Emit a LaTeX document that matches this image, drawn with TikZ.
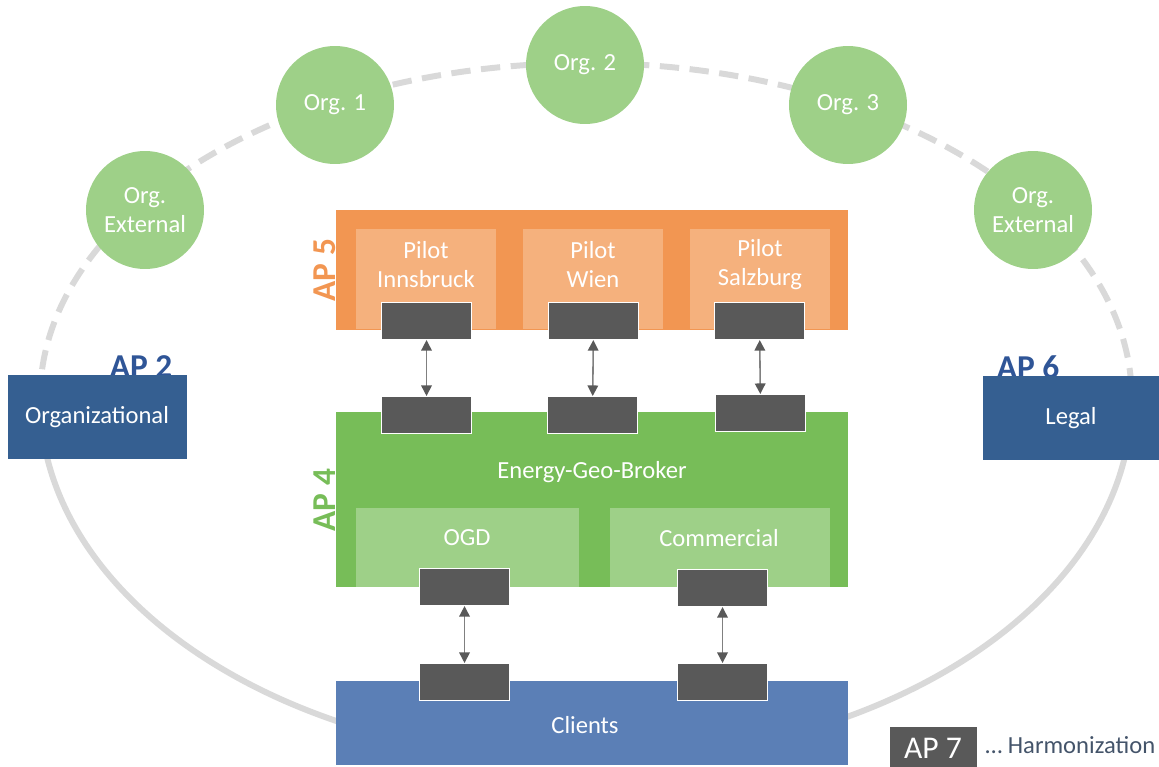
\documentclass[tikz,border=0pt]{standalone}
\usepackage{fontspec}
\setmainfont{Carlito}
\usetikzlibrary{arrows.meta}
\definecolor{ringgray}{RGB}{217,217,217}
\definecolor{orglight}{RGB}{158,208,136}
\definecolor{orangedark}{RGB}{242,150,82}
\definecolor{orangelight}{RGB}{245,177,125}
\definecolor{greendark}{RGB}{119,189,88}
\definecolor{greenlight}{RGB}{158,208,136}
\definecolor{clientblue}{RGB}{91,127,182}
\definecolor{workblue}{RGB}{53,95,145}
\definecolor{aplabelblue}{RGB}{47,85,151}
\definecolor{portgray}{RGB}{89,89,89}
\definecolor{linkgray}{RGB}{128,128,128}
\definecolor{notegray}{RGB}{68,84,106}
\tikzset{
  txt/.style={font=\fontsize{14}{16.5}\selectfont, text=white, align=center, inner sep=0pt},
  org/.style={txt, circle, fill=orglight, minimum size=2.36cm},
  panel/.style={rectangle, anchor=north west, inner sep=0pt},
  port/.style={panel, fill=portgray, draw=white, line width=0.6pt, minimum width=1.8cm, minimum height=0.74cm},
  aptag/.style={font=\fontsize{19}{19}\selectfont\bfseries, inner sep=0pt},
  portlink/.style={linkgray, line width=0.9pt,
    {Triangle[width=6pt,length=6pt,color=portgray]}-{Triangle[width=6pt,length=6pt,color=portgray]}},
  ringdash/.style={ringgray, line width=3.4pt, dash pattern=on 11pt off 6pt},
  ringsolid/.style={ringgray, line width=3.4pt}
}
\begin{document}
\begin{tikzpicture}[x=0.02cm, y=-0.02cm]
  \useasboundingbox (0,0) rectangle (1159,767);
  \draw[ringdash]  (40,399) arc[start angle=180, end angle=0,   x radius=10.92cm, y radius=6.72cm];
  \draw[ringsolid] (40,399) arc[start angle=180, end angle=360, x radius=10.92cm, y radius=7.24cm];

  \node[org] (orgExtL) at ( 145,210) {Org.\\External};
  \node[org] (orgOne)  at ( 335,105) {Org. 1};
  \node[org] (orgTwo)  at ( 585, 65) {Org. 2};
  \node[org] (orgThree)at ( 848,105) {Org. 3};
  \node[org] (orgExtR) at (1033,210) {Org.\\External};

  \node[aptag, text=aplabelblue] (apTwo) at ( 141,367) {AP 2};
  \node[aptag, text=aplabelblue] (apSix) at (1028,367) {AP 6};
  \node[panel, fill=workblue, minimum width=3.58cm, minimum height=1.68cm] (organizational) at (  8,375) {};
  \node[panel, fill=workblue, minimum width=3.52cm, minimum height=1.68cm] (legal)          at (983,376) {};
  \node[txt] (organizationalText) at (  97,417) {Organizational};
  \node[txt] (legalText)          at (1071,418) {Legal};

  \node[panel, fill=orangedark, minimum width=10.24cm, minimum height=2.4cm] (apFive) at (336,210) {};
  \node[panel, fill=orangelight, minimum width=2.8cm, minimum height=2.0cm] (pilotIbk) at (356,229) {};
  \node[panel, fill=orangelight, minimum width=2.8cm, minimum height=2.0cm] (pilotWien) at (523,229) {};
  \node[panel, fill=orangelight, minimum width=2.8cm, minimum height=2.0cm] (pilotSbg) at (690,229) {};
  \node[txt] (pilotIbkText)  at (426,265) {Pilot\\Innsbruck};
  \node[txt] (pilotWienText) at (593,265) {Pilot\\Wien};
  \node[txt] (pilotSbgText)  at (760,265) {Pilot\\Salzburg};
  \node[aptag, text=orangedark, rotate=90] (apFiveTag) at (325,270) {AP 5};

  \node[panel, fill=greendark, minimum width=10.24cm, minimum height=3.5cm] (apFour) at (336,412) {};
  \node[panel, fill=greenlight, minimum width=4.46cm, minimum height=1.58cm] (ogd) at (356,508) {};
  \node[panel, fill=greenlight, minimum width=4.4cm, minimum height=1.58cm] (commercial) at (610,508) {};
  \node[txt] (brokerText)     at (592,472) {Energy-Geo-Broker};
  \node[txt] (ogdText)        at (467,538) {OGD};
  \node[txt] (commercialText) at (719,538) {Commercial};
  \node[aptag, text=greendark, rotate=90] (apFourTag) at (325,500) {AP 4};

  \node[panel, fill=clientblue, minimum width=10.24cm, minimum height=1.68cm] (clients) at (336,681) {};
  \node[txt] (clientsText) at (585,725) {Clients};

  \node[port] (ibkUp)    at (381,302) {};
  \node[port] (wienUp)   at (548,302) {};
  \node[port] (sbgUp)    at (714,302) {};
  \node[port] (ibkDown)  at (381,396) {};
  \node[port] (wienDown) at (547,396) {};
  \node[port] (sbgDown)  at (715,394) {};
  \node[port] (ogdUp)    at (419,568) {};
  \node[port] (comUp)    at (677,569) {};
  \node[port] (ogdDown)  at (419,663) {};
  \node[port] (comDown)  at (677,663) {};

  \draw[portlink] (ibkUp)  -- (ibkDown);
  \draw[portlink] (wienUp) -- (wienDown);
  \draw[portlink] (sbgUp)  -- (sbgDown);
  \draw[portlink] (ogdUp)  -- (ogdDown);
  \draw[portlink] (comUp)  -- (comDown);

  \node[panel, fill=portgray, minimum width=1.74cm, minimum height=0.8cm] (apSeven) at (890,727) {};
  \node[font=\fontsize{18}{18}\selectfont, text=white, inner sep=0pt] (apSevenText) at (933,748) {AP 7};
  \node[font=\fontsize{14}{16}\selectfont, text=notegray, anchor=west, inner sep=0pt] (harmonization) at (985,745) {\dots{} Harmonization};
\end{tikzpicture}
\end{document}
